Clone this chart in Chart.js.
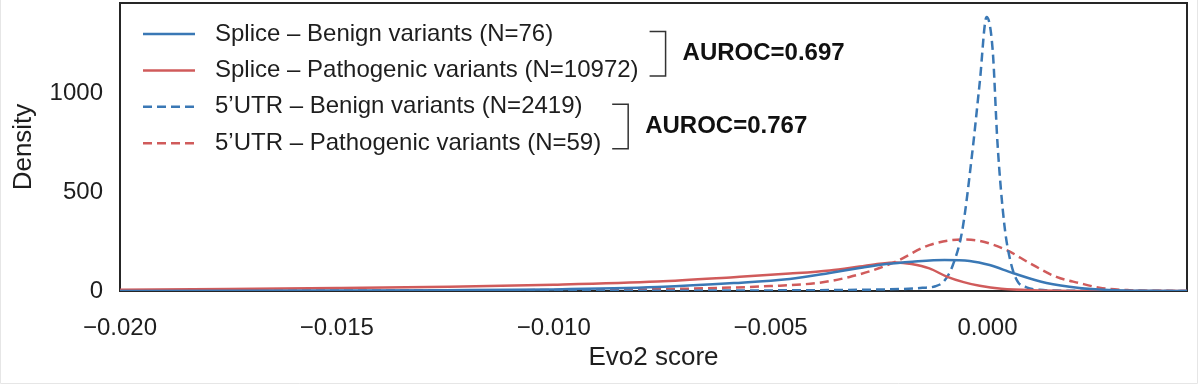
<!DOCTYPE html>
<html>
<head>
<meta charset="utf-8">
<script src="https://cdn.jsdelivr.net/npm/chart.js@4.4.1/dist/chart.umd.min.js"></script>
<style>
  html, body { margin: 0; padding: 0; background: #fff; }
  canvas { display: block; }
</style>
</head>
<body>
<canvas id="kde" width="1200" height="385"></canvas>
<script>
const FONT = '"Liberation Sans", Arial, sans-serif';
const TEXT = "#1e1e1e";
const BLUE = "#3a78b5";
const RED = "#d05b5b";

const xTicks = [-0.02, -0.015, -0.01, -0.005, 0];
const yTicks = [0, 500, 1000];

const labels = [
  "Splice – Benign variants (N=76)",
  "Splice – Pathogenic variants (N=10972)",
  "5’UTR – Benign variants (N=2419)",
  "5’UTR – Pathogenic variants (N=59)",
];
const aurocLabels = ["AUROC=0.697", "AUROC=0.767"];

// splice, benign (solid blue)
const spliceBenignX = [-0.02, -0.017, -0.015, -0.0125, -0.01, -0.0076, -0.00585, -0.00456, -0.00364, -0.00295, -0.00233, -0.00173, -0.00099, -0.00041, 0.00005, 0.00058, 0.00136, 0.00212, 0.00281, 0.0035, 0.0046];
const spliceBenignY = [0.5, 1, 2, 4, 8, 20, 40, 61, 91, 116, 136, 148, 157, 152, 131, 91, 40, 15, 5, 1, 0];

// splice, pathogenic (solid red)
const splicePathX = [-0.02, -0.0175, -0.015, -0.0124, -0.01, -0.0076, -0.00585, -0.00456, -0.00364, -0.00295, -0.00249, -0.0021, -0.00175, -0.00134, -0.00094, -0.00055, -0.00018, 0.00032, 0.0012, 0.002, 0.0046];
const splicePathY = [6, 10, 15, 22, 32, 48, 70, 88, 104, 124, 138, 144, 136, 114, 73, 45, 26, 11, 3, 0.5, 0];

// 5'UTR, benign (dashed blue)
const utrBenignX = [-0.02, -0.01, -0.005, -0.003, -0.002, -0.0015, -0.0012, -0.001, -0.0008, -0.00058, -0.00035, -0.00018, -0.00002, 0.00012, 0.00023, 0.00039, 0.00053, 0.00069, 0.0009, 0.0012, 0.0016, 0.0022, 0.0046];
const utrBenignY = [0, 1, 3, 6, 10, 16, 24, 50, 130, 308, 700, 1050, 1384, 1217, 750, 333, 150, 50, 18, 6, 2, 1, 0];

// 5'UTR, pathogenic (dashed red)
const utrPathX = [-0.02, -0.015, -0.01, -0.0076, -0.005, -0.00387, -0.00318, -0.00249, -0.0021, -0.00134, -0.00058, -0.00018, 0.00044, 0.00097, 0.00159, 0.00212, 0.00258, 0.00327, 0.004, 0.0046];
const utrPathY = [0, 1, 5, 9, 25, 42, 71, 116, 150, 232, 260, 253, 207, 141, 71, 40, 17, 4, 1, 0];

const toPoints = (xs, ys) => xs.map((x, i) => ({ x, y: ys[i] }));

const formatTick = (v) => (v < 0 ? "\u2212" : "") + Math.abs(v).toFixed(3);

function makeSet(label, xs, ys, color, dashed) {
  return {
    label,
    data: toPoints(xs, ys),
    borderColor: color,
    borderWidth: 2.5,
    borderDash: dashed ? [9, 5] : [],
    pointRadius: 0,
    fill: false,
    cubicInterpolationMode: "monotone",
  };
}

// drop the label overhang padding chart.js reserves on each axis
function fixSize(prop, size) {
  return (scale) => {
    scale[prop] = size;
    scale.paddingTop = 0;
    scale.paddingBottom = 0;
    scale.paddingLeft = 0;
    scale.paddingRight = 0;
  };
}

const framePlugin = {
  id: "frame",
  beforeDraw(chart) {
    const { ctx, width, height } = chart;
    ctx.save();
    ctx.fillStyle = "#fff";
    ctx.fillRect(0, 0, width, height);
    ctx.strokeStyle = "#e6e6e6";
    ctx.lineWidth = 1;
    ctx.beginPath();
    ctx.moveTo(0.5, 0);
    ctx.lineTo(0.5, height - 1.5);
    ctx.lineTo(width - 2.5, height - 1.5);
    ctx.lineTo(width - 2.5, 0);
    ctx.stroke();
    ctx.restore();
  },
  beforeDatasetsDraw(chart) {
    const { ctx, chartArea: a } = chart;
    ctx.save();
    ctx.strokeStyle = "#262626";
    ctx.lineWidth = 2;
    ctx.strokeRect(a.left, a.top, a.right - a.left, a.bottom - a.top);
    ctx.restore();
  },
};

const legendPlugin = {
  id: "kdeLegend",
  afterDraw(chart) {
    const { ctx, chartArea: a } = chart;
    const rowY = (i) => a.top + 31 + i * 36.4;
    const ends = [];
    ctx.save();
    ctx.font = `24px ${FONT}`;
    ctx.textBaseline = "middle";
    chart.data.datasets.forEach((ds, i) => {
      const y = rowY(i);
      ctx.strokeStyle = ds.borderColor;
      ctx.lineWidth = ds.borderWidth;
      ctx.setLineDash(ds.borderDash);
      ctx.beginPath();
      ctx.moveTo(a.left + 23, y);
      ctx.lineTo(a.left + 75, y);
      ctx.stroke();
      ctx.setLineDash([]);
      ctx.fillStyle = TEXT;
      ctx.fillText(ds.label, a.left + 95, y);
      ends.push(a.left + 95 + ctx.measureText(ds.label).width);
    });

    // brackets joining each pair of rows
    aurocLabels.forEach((txt, k) => {
      const i0 = k * 2, i1 = k * 2 + 1;
      const x0 = Math.max(ends[i0], ends[i1]) + 11;
      const x1 = x0 + 16;
      const yTop = rowY(i0) - 2.5;
      const yBot = rowY(i1) + 5.5;
      ctx.strokeStyle = "#333";
      ctx.lineWidth = 1.5;
      ctx.beginPath();
      ctx.moveTo(x0, yTop);
      ctx.lineTo(x1, yTop);
      ctx.lineTo(x1, yBot);
      ctx.lineTo(x0, yBot);
      ctx.stroke();
      ctx.font = `bold 24px ${FONT}`;
      ctx.fillStyle = "#111";
      ctx.fillText(txt, x1 + 17, (yTop + yBot) / 2);
      ctx.font = `24px ${FONT}`;
    });
    ctx.restore();
  },
};

new Chart(document.getElementById("kde"), {
  type: "line",
  data: {
    datasets: [
      makeSet(labels[0], spliceBenignX, spliceBenignY, BLUE, false),
      makeSet(labels[1], splicePathX, splicePathY, RED, false),
      makeSet(labels[2], utrBenignX, utrBenignY, BLUE, true),
      makeSet(labels[3], utrPathX, utrPathY, RED, true),
    ],
  },
  options: {
    responsive: false,
    devicePixelRatio: 1,
    animation: false,
    layout: { padding: { top: 3, right: 13, left: 0, bottom: 0 } },
    plugins: { legend: { display: false }, tooltip: { enabled: false } },
    scales: {
      x: {
        type: "linear",
        min: -0.02,
        max: 0.0046,
        afterBuildTicks: (scale) => { scale.ticks = xTicks.map((value) => ({ value })); },
        afterFit: fixSize("height", 94),
        grid: { display: false, drawTicks: false },
        border: { display: false },
        ticks: {
          padding: 23,
          color: TEXT,
          font: { family: FONT, size: 24 },
          maxRotation: 0,
          callback: (v) => formatTick(v),
        },
        title: {
          display: true,
          text: "Evo2 score",
          color: TEXT,
          font: { family: FONT, size: 26 },
          padding: { top: 0, bottom: 12 },
        },
      },
      y: {
        min: 0,
        max: 1455,
        afterBuildTicks: (scale) => { scale.ticks = yTicks.map((value) => ({ value })); },
        afterFit: fixSize("width", 120),
        grid: { display: false, drawTicks: false },
        border: { display: false },
        ticks: {
          padding: 17,
          color: TEXT,
          font: { family: FONT, size: 24 },
          callback: (v) => String(v),
        },
        title: {
          display: true,
          text: "Density",
          color: TEXT,
          font: { family: FONT, size: 26 },
          padding: { top: 8, bottom: 0 },
        },
      },
    },
  },
  plugins: [framePlugin, legendPlugin],
});
</script>
</body>
</html>
